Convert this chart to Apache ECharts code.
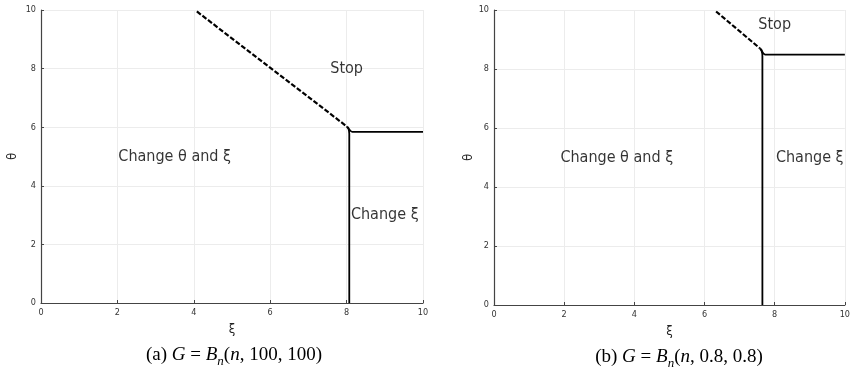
<!DOCTYPE html>
<html>
<head>
<meta charset="utf-8">
<script src="https://cdn.jsdelivr.net/npm/echarts@6/dist/echarts.min.js"></script>
<style>
  html, body { margin: 0; padding: 0; background: #fff; }
  #main { width: 853px; height: 372px; }
</style>
</head>
<body>
<div id="main"></div>
<script>
// 坐标轴刻度
var xTicks = [0, 2, 4, 6, 8, 10];
var yTicks = [0, 2, 4, 6, 8, 10];

// (a) G = Bn(n,100,100) 的边界
var stopA = [[4.08, 9.95], [8.0, 6.03]];
var vertA = [[8.0, 6.03], [8.05, 5.94], [8.07, 5.78], [8.07, 0]];
var horA = [[8.03, 6.01], [8.15, 5.84], [10, 5.84]];
var labelsA = [
  { name: 'Stop', value: [8, 8] },
  { name: 'Change θ and ξ', value: [3.5, 5] },
  { name: 'Change ξ', value: [9, 3] }
];

// (b) G = Bn(n,0.8,0.8) 的边界
var stopB = [[6.33, 9.95], [7.58, 8.7]];
var vertB = [[7.58, 8.7], [7.63, 8.6], [7.65, 8.44], [7.65, 0]];
var horB = [[7.61, 8.68], [7.73, 8.49], [10, 8.49]];
var labelsB = [
  { name: 'Stop', value: [8, 9.5] },
  { name: 'Change θ and ξ', value: [3.5, 5] },
  { name: 'Change ξ', value: [9, 5] }
];

var tickFont = 'DejaVu Sans Condensed, DejaVu Sans';
var axisColor = '#444';

function xAxis(idx) {
  return {
    gridIndex: idx, type: 'value', min: 0, max: 10, interval: 2,
    name: 'ξ', nameLocation: 'middle', nameGap: 20,
    nameTextStyle: { fontFamily: tickFont, fontSize: 13, color: '#222' },
    axisLine: { lineStyle: { color: axisColor, width: 1.2 } },
    axisTick: { inside: true, length: 3, lineStyle: { color: axisColor } },
    axisLabel: { margin: 5, fontSize: 9, fontFamily: tickFont, color: '#333',
      formatter: function (v) { return xTicks.indexOf(v) >= 0 ? String(v) : ''; } },
    splitLine: { show: true, lineStyle: { color: '#ececec', width: 1 } }
  };
}
function yAxis(idx, gap) {
  return {
    gridIndex: idx, type: 'value', min: 0, max: 10, interval: 2,
    name: 'θ', nameLocation: 'middle', nameGap: gap, nameRotate: 90,
    nameTextStyle: { fontFamily: tickFont, fontSize: 13, color: '#222' },
    axisLine: { show: true, lineStyle: { color: axisColor, width: 1.2 } },
    axisTick: { show: true, inside: true, length: 3, lineStyle: { color: axisColor } },
    axisLabel: { margin: 5, fontSize: 9, fontFamily: tickFont, color: '#333',
      formatter: function (v) { return yTicks.indexOf(v) >= 0 ? String(v) : ''; } },
    splitLine: { show: true, lineStyle: { color: '#ececec', width: 1 } }
  };
}

function lineSeries(idx, data, dashed) {
  return {
    type: 'line', xAxisIndex: idx, yAxisIndex: idx, data: data,
    showSymbol: false, symbol: 'none', smooth: dashed ? false : 0.3,
    lineStyle: { color: '#000', width: dashed ? 2.2 : 1.8, type: dashed ? [5, 2] : 'solid' },
    silent: true, z: 3
  };
}
function textSeries(idx, data) {
  return {
    type: 'scatter', xAxisIndex: idx, yAxisIndex: idx, data: data,
    symbolSize: 0, silent: true,
    label: { show: true, position: 'inside', formatter: '{b}',
      fontFamily: 'DejaVu Sans Condensed, DejaVu Sans', fontSize: 16, color: '#000' }
  };
}

var capRich = {
  r: { fontFamily: 'Liberation Serif', fontSize: 19, color: '#000' },
  i: { fontFamily: 'Liberation Serif', fontSize: 19, fontStyle: 'italic', color: '#000' },
  s: { fontFamily: 'Liberation Serif', fontSize: 13, fontStyle: 'italic', color: '#000',
    verticalAlign: 'bottom', lineHeight: 27 }
};

var option = {
  animation: false,
  backgroundColor: '#fff',
  grid: [
    { left: 41, top: 10, width: 382, height: 293 },
    { left: 494, top: 10, width: 353, height: 295 }
  ],
  xAxis: [xAxis(0), xAxis(1)],
  yAxis: [yAxis(0, 22), yAxis(1, 19)],
  series: [
    lineSeries(0, stopA, true), lineSeries(0, vertA, false), lineSeries(0, horA, false),
    textSeries(0, labelsA),
    lineSeries(1, stopB, true), lineSeries(1, vertB, false), lineSeries(1, horB, false),
    textSeries(1, labelsB)
  ],
  graphic: [
    { type: 'text', x: 234, y: 355, style: {
      text: '{r|(a) }{i|G}{r| = }{i|B}{s|n}{r|(}{i|n}{r|, 100, 100)}',
      rich: capRich, align: 'center', verticalAlign: 'middle' } },
    { type: 'text', x: 679, y: 357, style: {
      text: '{r|(b) }{i|G}{r| = }{i|B}{s|n}{r|(}{i|n}{r|, 0.8, 0.8)}',
      rich: capRich, align: 'center', verticalAlign: 'middle' } }
  ]
};

var myChart = echarts.init(document.getElementById('main'));
myChart.setOption(option);
</script>
</body>
</html>
